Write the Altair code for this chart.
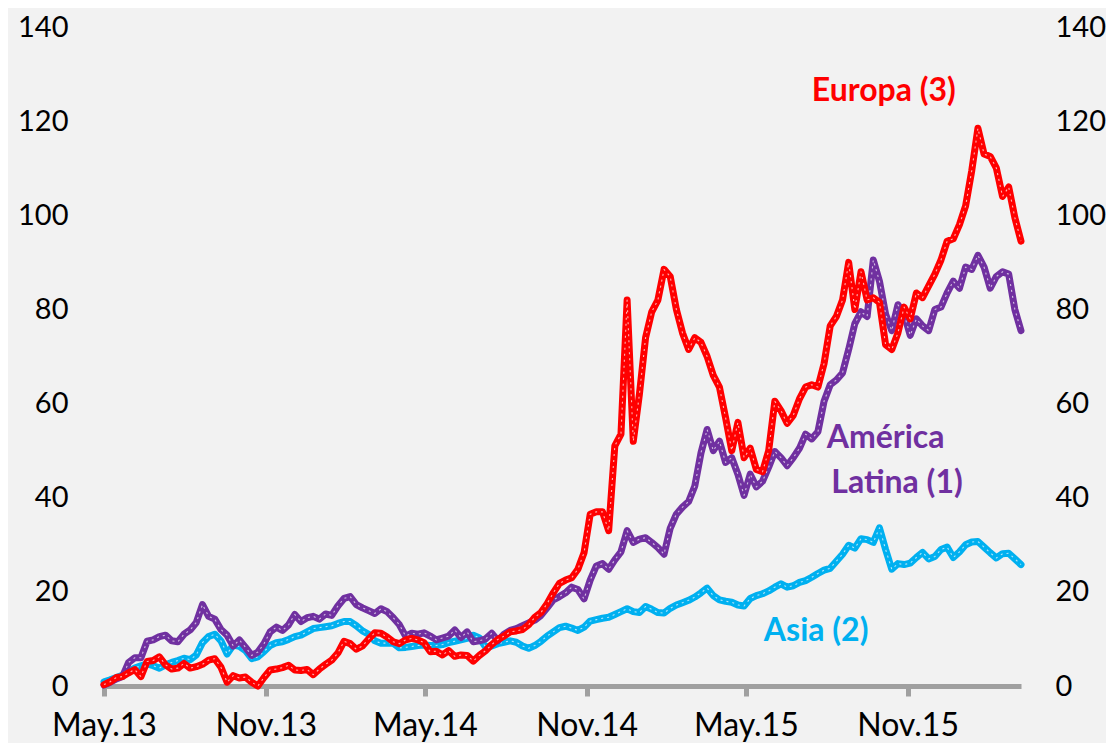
import altair as alt
import pandas as pd

# Weekly observations from 1 May 2013
dates = pd.date_range("2013-05-01", periods=150, freq="7D")

europa = [
    0.3, 0.9, 1.8, 2.0, 2.8, 3.5, 2.0, 5.2, 5.4, 6.2,
    4.5, 3.6, 3.8, 4.8, 3.8, 4.1, 4.6, 5.5, 5.8, 4.0,
    0.8, 2.2, 1.7, 1.9, 0.8, 0.0, 1.8, 3.4, 3.6, 3.9,
    4.4, 3.4, 3.3, 3.5, 2.4, 3.6, 4.6, 5.5, 7.0, 9.5,
    9.0, 7.8, 8.5, 10.0, 11.3, 11.2, 10.4, 9.4, 9.0, 9.8,
    10.1, 9.8, 9.2, 7.3, 7.4, 6.6, 7.5, 6.3, 6.6, 6.5,
    5.3, 6.5, 7.5, 8.8, 9.9, 10.6, 11.5, 11.7, 12.0, 13.0,
    14.6, 15.6, 17.5, 19.8, 21.8, 22.5, 23.0, 24.8, 28.3, 36.5,
    37.0, 37.0, 33.0, 51.0, 53.5, 82.0, 52.0, 62.0, 74.0, 79.5,
    82.0, 88.5, 87.0, 80.0, 75.0, 71.5, 74.0, 73.0, 70.0, 66.0,
    63.5, 57.0, 50.0, 56.0, 48.5, 50.5, 46.0, 45.5, 50.0, 60.5,
    58.5, 55.8, 57.5, 61.0, 63.5, 64.0, 63.5, 68.5, 76.5, 78.5,
    82.0, 90.0, 80.0, 88.0, 82.0, 82.5, 81.5, 72.5, 71.5, 75.0,
    80.5, 78.0, 83.5, 82.5, 85.0, 87.5, 90.5, 94.5, 95.0, 98.0,
    102.0, 109.5, 118.5, 113.0, 112.5, 110.0, 104.0, 106.0, 99.5, 94.5,
]

america_latina = [
    0.2, 0.8, 1.5, 2.0, 5.0, 6.0, 6.0, 9.5, 9.8, 10.5,
    10.8, 9.6, 9.4, 11.0, 11.9, 13.5, 17.3, 14.8, 14.2, 12.0,
    10.8, 8.5, 9.8, 8.2, 6.5, 7.2, 9.0, 11.5, 12.5, 11.8,
    13.0, 15.2, 13.7, 14.5, 14.8, 14.2, 15.3, 15.0, 17.0, 18.6,
    19.0, 17.3, 16.6, 16.0, 15.4, 16.4, 15.8, 14.5, 13.0, 10.6,
    11.2, 11.0, 11.3, 10.6, 9.8, 10.2, 10.6, 11.9, 10.3, 11.5,
    9.4, 9.6, 10.0, 11.2, 9.6, 11.0, 11.8, 12.2, 12.8, 13.4,
    14.0, 15.0, 16.6, 18.3, 19.0, 19.8, 21.0, 20.5, 18.5, 22.5,
    25.5, 26.0, 24.8, 26.8, 28.5, 33.0, 30.5, 31.2, 31.5, 30.5,
    29.4, 28.0, 33.5, 36.5, 38.0, 39.2, 42.5, 49.5, 54.5, 50.0,
    52.0, 47.5, 48.5, 45.0, 40.5, 45.0, 42.3, 43.5, 46.5, 49.8,
    48.5, 46.8, 48.5, 50.5, 53.5, 52.5, 54.0, 60.5, 64.0, 65.0,
    66.5, 71.5, 77.0, 79.5, 78.5, 90.5, 86.0, 79.0, 75.5, 81.0,
    79.0, 74.5, 78.0, 76.5, 75.5, 80.0, 80.5, 83.5, 86.0, 84.5,
    89.0, 88.5, 91.5, 89.0, 84.5, 87.0, 88.0, 87.5, 80.0, 75.5,
]

asia = [
    0.9, 1.3, 1.8, 2.3, 3.1, 3.8, 4.3, 4.7, 4.3, 3.8,
    4.5, 5.0, 5.4, 5.9, 5.6, 6.6, 9.2, 10.5, 11.0, 9.6,
    6.8, 8.7, 8.4, 7.5, 5.8, 6.2, 7.3, 8.6, 9.2, 9.4,
    9.9, 10.5, 10.8, 11.5, 12.2, 12.4, 12.6, 12.8, 13.3, 13.7,
    13.7, 12.8, 11.7, 11.0, 9.6, 9.1, 9.1, 9.1, 8.1, 8.2,
    8.4, 8.6, 8.7, 8.6, 8.6, 8.8, 9.2, 9.5, 9.8, 10.1,
    10.8, 10.2, 8.3, 8.5, 9.0, 9.3, 9.6, 9.3, 8.5, 8.0,
    8.6, 9.5, 10.6, 11.5, 12.4, 12.7, 12.3, 11.8, 12.5, 13.8,
    14.1, 14.4, 14.6, 15.2, 15.8, 16.4, 15.8, 15.6, 16.9, 16.3,
    15.6, 15.5, 16.5, 17.2, 17.7, 18.2, 18.9, 19.8, 20.8, 19.2,
    18.3, 18.0, 17.8, 17.2, 17.0, 18.6, 19.2, 19.6, 20.2, 21.0,
    21.7, 21.0, 21.3, 22.0, 22.4, 23.1, 23.9, 24.6, 25.0, 26.5,
    28.0, 29.9, 29.3, 31.3, 31.1, 30.5, 33.6, 29.0, 24.8, 26.0,
    25.8, 26.1, 27.3, 28.4, 27.0, 27.5, 29.0, 29.5, 27.3, 28.5,
    30.0, 30.6, 30.7, 29.5, 28.3, 27.2, 28.1, 28.2, 27.0, 25.8,
]

tick_dates = ["2013-05-01", "2013-11-01", "2014-05-01", "2014-11-01", "2015-05-01", "2015-11-01"]
y_ticks = [0, 20, 40, 60, 80, 100, 120, 140]

label_text = ["Europa (3)", "América", "Latina (1)", "Asia (2)"]
label_date = ["2015-10-05", "2015-10-07", "2015-10-20", "2015-07-20"]
label_value = [126.4, 52.7, 43.1, 11.7]
label_color = ["#FF0000", "#7030A0", "#7030A0", "#00B0F0"]

FONT = "Lato"
AXIS_GRAY = "#A0A0A0"

df = pd.DataFrame({
    "fecha": dates,
    "Europa": europa,
    "America": america_latina,
    "Asia": asia,
})
ann = pd.DataFrame({
    "fecha": pd.to_datetime(label_date),
    "valor": label_value,
    "texto": label_text,
    "color": label_color,
})

x_scale = alt.Scale(domain=[alt.DateTime(year=2013, month=5, date=1),
                            alt.DateTime(year=2016, month=3, date=9)])
x_axis = alt.Axis(
    values=[alt.DateTime(year=int(d[:4]), month=int(d[5:7]), date=1) for d in tick_dates],
    format="%b.%y", title=None, grid=False,
    domainColor=AXIS_GRAY, domainWidth=5, tickColor=AXIS_GRAY, tickWidth=5,
    tickSize=10, labelFont=FONT, labelFontSize=32, labelColor="black",
    labelPadding=14, labelFlush=False,
)
y_scale = alt.Scale(domain=[0, 140], nice=False)


def y_axis(orient, pad):
    return alt.Axis(values=y_ticks, orient=orient, title=None, grid=False,
                    domain=False, ticks=False, labelFont=FONT, labelFontSize=29,
                    labelColor="black", labelPadding=pad)


base = alt.Chart(df)
layers = []
series = [("Asia", "#00B0F0"), ("America", "#7030A0"), ("Europa", "#FF0000")]
for k, (col, color) in enumerate(series):
    if k == 0:
        ax = y_axis("left", 36)
    elif k == 1:
        ax = y_axis("right", 34)
    else:
        ax = None
    thick = base.mark_line(color=color, strokeWidth=7, strokeJoin="round", strokeCap="round").encode(
        x=alt.X("fecha:T", scale=x_scale, axis=x_axis),
        y=alt.Y(f"{col}:Q", scale=y_scale, axis=ax),
    )
    inner = base.mark_line(color="white", strokeWidth=1.1, strokeDash=[2, 4], opacity=0.7,
                           strokeJoin="round").encode(
        x=alt.X("fecha:T", scale=x_scale),
        y=alt.Y(f"{col}:Q", scale=y_scale, axis=None),
    )
    layers += [thick, inner]

text = alt.Chart(ann).mark_text(font=FONT, fontSize=32, fontWeight="bold",
                                align="center", baseline="middle").encode(
    x=alt.X("fecha:T", scale=x_scale),
    y=alt.Y("valor:Q", scale=y_scale, axis=None),
    text="texto:N",
    color=alt.Color("color:N", scale=None),
)
layers.append(text)

chart = alt.layer(*layers).resolve_scale(y="independent").properties(
    width=917, height=659,
    padding={"left": 96, "top": 19, "right": 85, "bottom": 57},
    autosize=alt.AutoSizeParams(type="none"),
    background="#F2F2F2",
).configure_view(stroke=None)

chart.save("out.html", embed_options={"renderer": "svg", "actions": False})
